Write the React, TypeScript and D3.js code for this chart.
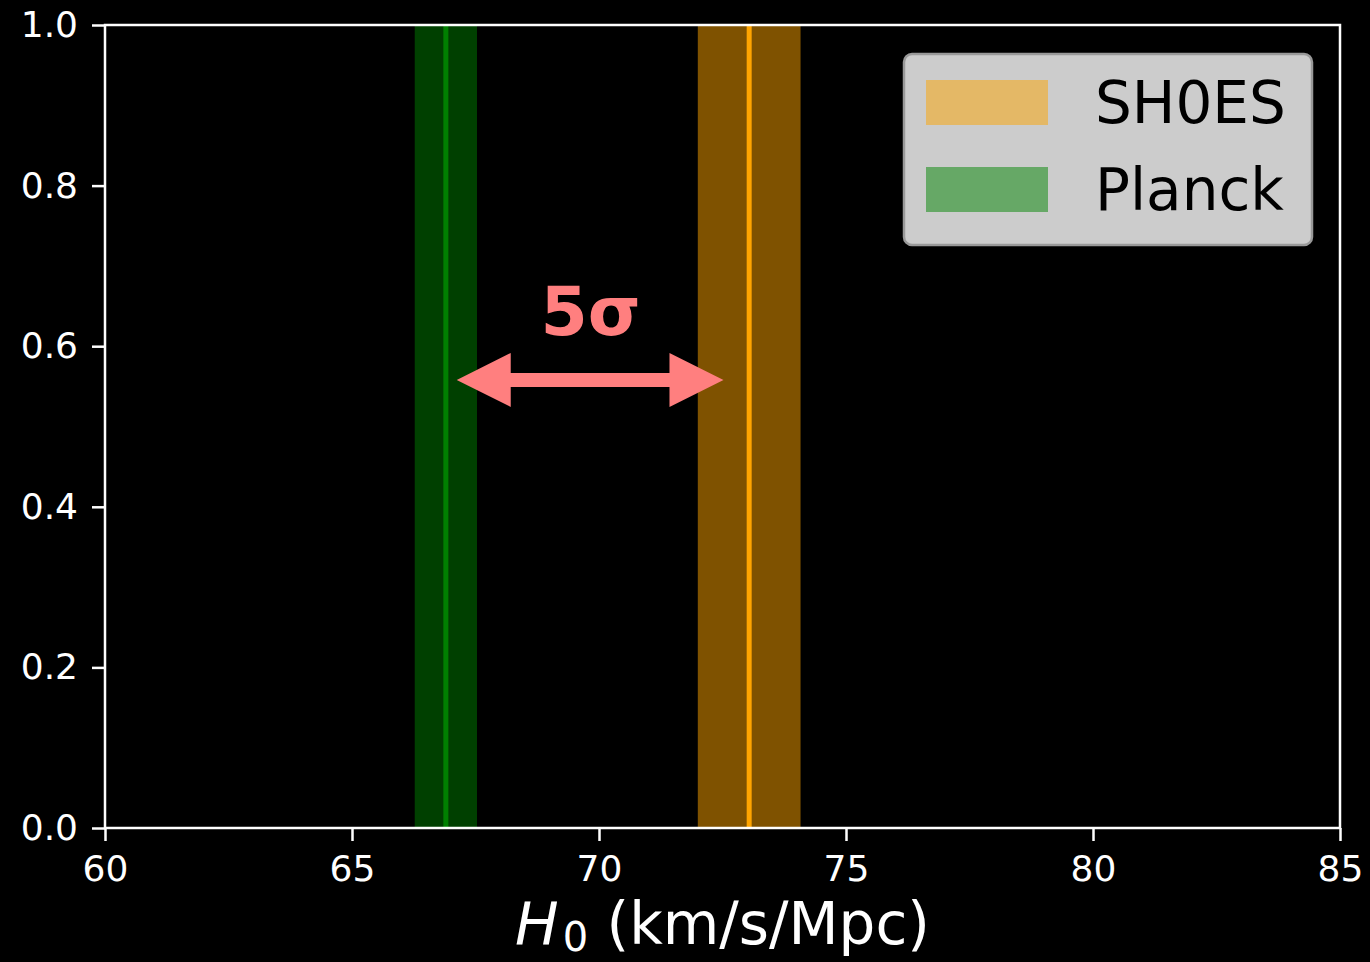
import React, { useRef, useEffect } from "react";
import * as d3 from "d3";

// measurements (H0 in km/s/Mpc)
const names = ["SH0ES", "Planck"];
const centers = [73.04, 66.9];
const halfWidths = [1.04, 0.63];
const lineColors = ["#ffa500", "#008000"];
const bandColors = ["#7f5200", "#004000"];
const legendColors = ["#e4b866", "#66a866"];

const xTicks = [60, 65, 70, 75, 80, 85];
const yTicks = [0, 0.2, 0.4, 0.6, 0.8, 1.0];

// tension annotation
const arrowFrom = 67.12;
const arrowTo = 72.52;
const arrowY = 0.558;
const tensionLabel = "5σ";
const labelX = 69.83;
const labelY = 0.614;

export default function App() {
  const ref = useRef<SVGSVGElement>(null);
  const width = 1370;
  const height = 962;

  useEffect(() => {
    document.body.style.margin = "0";
    document.body.style.background = "#000";
    const left = 105, right = 1340, top = 25, bottom = 828;
    const font = "DejaVu Sans, sans-serif";
    const svg = d3.select(ref.current);
    svg.selectAll("*").remove();
    svg.attr("width", width).attr("height", height);
    svg.append("rect").attr("width", width).attr("height", height).attr("fill", "#000");

    const x = d3.scaleLinear().domain([60, 85]).range([left, right]);
    const y = d3.scaleLinear().domain([0, 1]).range([bottom, top]);

    // bands
    names.forEach((n, i) => {
      svg.append("rect")
        .attr("x", x(centers[i] - halfWidths[i]))
        .attr("y", top)
        .attr("width", x(centers[i] + halfWidths[i]) - x(centers[i] - halfWidths[i]))
        .attr("height", bottom - top)
        .attr("fill", bandColors[i]);
      svg.append("line")
        .attr("x1", x(centers[i])).attr("x2", x(centers[i]))
        .attr("y1", top).attr("y2", bottom)
        .attr("stroke", lineColors[i]).attr("stroke-width", 5);
    });

    // double-headed arrow
    const ax0 = x(arrowFrom), ax1 = x(arrowTo), ay = y(arrowY);
    const hl = 54, hw = 27, sw = 7;
    const arrowPath = [
      [ax0, ay], [ax0 + hl, ay - hw], [ax0 + hl, ay - sw], [ax1 - hl, ay - sw],
      [ax1 - hl, ay - hw], [ax1, ay], [ax1 - hl, ay + hw], [ax1 - hl, ay + sw],
      [ax0 + hl, ay + sw], [ax0 + hl, ay + hw],
    ];
    svg.append("path")
      .attr("d", d3.line()(arrowPath as [number, number][]) + "Z")
      .attr("fill", "#ff7f7f");
    svg.append("text")
      .attr("x", x(labelX)).attr("y", y(labelY))
      .attr("text-anchor", "middle")
      .attr("font-family", font).attr("font-weight", "bold").attr("font-size", 68)
      .attr("fill", "#ff7f7f")
      .text(tensionLabel);

    // axes
    const xAxis = d3.axisBottom(x).tickValues(xTicks).tickSize(13).tickPadding(14).tickFormat(d3.format("d"));
    const yAxis = d3.axisLeft(y).tickValues(yTicks).tickSize(13).tickPadding(14).tickFormat(d3.format(".1f"));
    const gx = svg.append("g").attr("transform", `translate(0,${bottom})`).call(xAxis);
    const gy = svg.append("g").attr("transform", `translate(${left},0)`).call(yAxis);
    [gx, gy].forEach(g => {
      g.select(".domain").remove();
      g.selectAll(".tick line").attr("stroke", "#fff").attr("stroke-width", 2.5);
      g.selectAll(".tick text").attr("fill", "#fff").attr("font-family", font).attr("font-size", 36);
    });
    gx.selectAll(".tick text").attr("dy", "0.71em");

    // spines
    svg.append("rect")
      .attr("x", left).attr("y", top)
      .attr("width", right - left).attr("height", bottom - top)
      .attr("fill", "none").attr("stroke", "#fff").attr("stroke-width", 2.5);

    // x label
    const xl = svg.append("text")
      .attr("x", (left + right) / 2).attr("y", 944)
      .attr("text-anchor", "middle")
      .attr("font-family", font).attr("font-size", 58).attr("fill", "#fff");
    xl.append("tspan").attr("font-style", "italic").text("H");
    xl.append("tspan").attr("font-size", 40).attr("dx", 4).attr("dy", 7).text("0");
    xl.append("tspan").attr("dy", -7).text(" (km/s/Mpc)");

    // legend
    const lg = svg.append("g");
    lg.append("rect")
      .attr("x", 904).attr("y", 54).attr("width", 408).attr("height", 191).attr("rx", 8)
      .attr("fill", "#cccccc").attr("stroke", "#999").attr("stroke-width", 2.5);
    names.forEach((n, i) => {
      const yy = 80 + i * 87;
      lg.append("rect")
        .attr("x", 926).attr("y", yy).attr("width", 122).attr("height", 45)
        .attr("fill", legendColors[i]);
      lg.append("text")
        .attr("x", 1095).attr("y", yy + 43)
        .attr("font-family", font).attr("font-size", 58).attr("fill", "#000")
        .text(n);
    });
  }, []);

  return <svg ref={ref} style={{ display: "block", width, height }} />;
}
